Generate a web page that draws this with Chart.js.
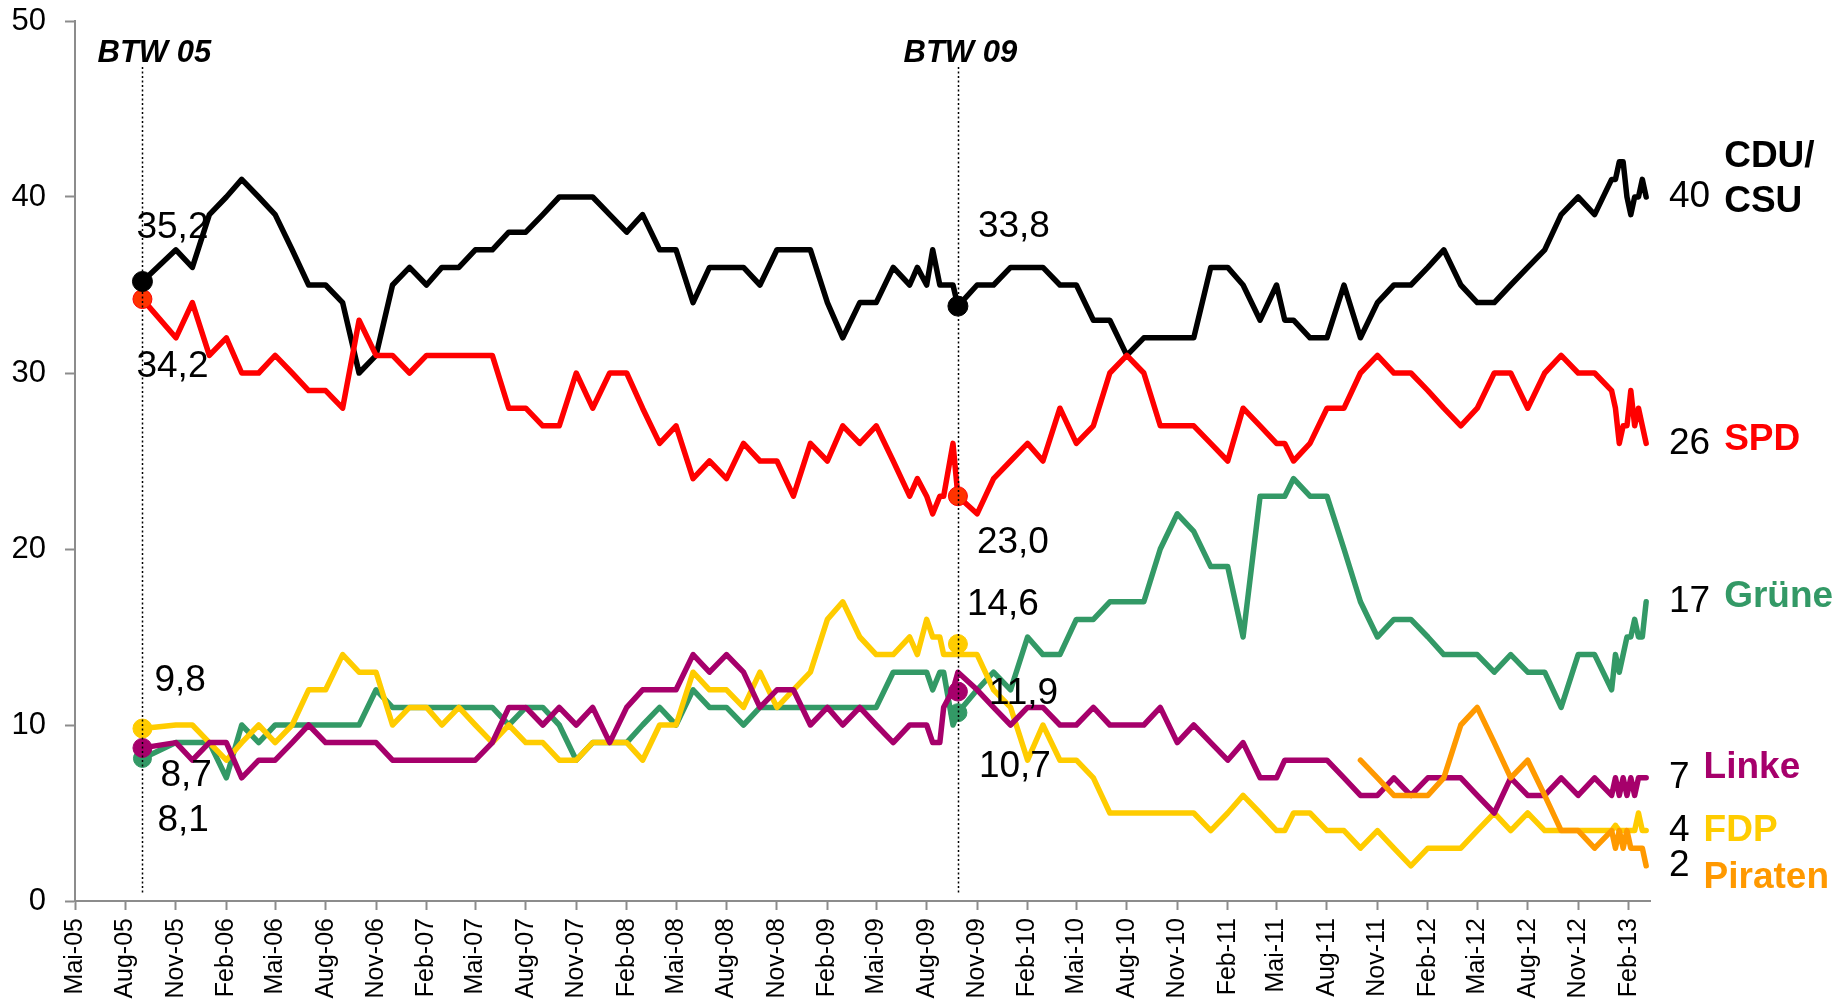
<!DOCTYPE html>
<html>
<head>
<meta charset="utf-8">
<script src="https://cdn.jsdelivr.net/npm/chart.js@4.4.1/dist/chart.umd.min.js"></script>
<style>
  html, body { margin: 0; padding: 0; background: #fff; }
  canvas { display: block; }
</style>
</head>
<body>
<canvas id="chart" width="1845" height="1004"></canvas>
<script>
// Umfragewerte (Prozent), Datum je Erhebung
const dates = [
  '2005-09-01', '2005-11-01', '2005-12-01',
  '2006-01-01', '2006-02-01', '2006-03-01', '2006-04-01', '2006-05-01', '2006-06-01', '2006-07-01', '2006-08-01', '2006-09-01', '2006-10-01', '2006-11-01', '2006-12-01',
  '2007-01-01', '2007-02-01', '2007-03-01', '2007-04-01', '2007-05-01', '2007-06-01', '2007-07-01', '2007-08-01', '2007-09-01', '2007-10-01', '2007-11-01', '2007-12-01',
  '2008-01-01', '2008-02-01', '2008-03-01', '2008-04-01', '2008-05-01', '2008-06-01', '2008-07-01', '2008-08-01', '2008-09-01', '2008-10-01', '2008-11-01', '2008-12-01',
  '2009-01-01', '2009-02-01', '2009-03-01', '2009-04-01', '2009-05-01', '2009-06-01', '2009-07-01', '2009-07-15', '2009-08-01', '2009-08-12', '2009-08-25', '2009-09-01', '2009-09-18', '2009-09-27', '2009-11-01', '2009-12-01',
  '2010-01-01', '2010-02-01', '2010-03-01', '2010-04-01', '2010-05-01', '2010-06-01', '2010-07-01', '2010-08-01', '2010-09-01', '2010-10-01', '2010-11-01', '2010-12-01',
  '2011-01-01', '2011-02-01', '2011-03-01', '2011-04-01', '2011-05-01', '2011-05-16', '2011-06-01', '2011-07-01', '2011-08-01', '2011-09-01', '2011-10-01', '2011-11-01', '2011-12-01',
  '2012-01-01', '2012-02-01', '2012-03-01', '2012-04-01', '2012-05-01', '2012-06-01', '2012-07-01', '2012-08-01', '2012-09-01', '2012-10-01', '2012-11-01', '2012-12-01',
  '2013-01-01', '2013-01-08', '2013-01-15', '2013-01-22', '2013-01-29', '2013-02-05', '2013-02-12', '2013-02-19', '2013-02-26', '2013-03-05'
];

const cdu = [
  35.2, 37, 36,
  39, 40, 41, 40, 39, 37, 35, 35, 34, 30, 31, 35,
  36, 35, 36, 36, 37, 37, 38, 38, 39, 40, 40, 40,
  39, 38, 39, 37, 37, 34, 36, 36, 36, 35, 37, 37,
  37, 34, 32, 34, 34, 36, 35, 36, 35, 37, 35, 35, 35, 33.8, 35, 35,
  36, 36, 36, 35, 35, 33, 33, 31, 32, 32, 32, 32,
  36, 36, 35, 33, 35, 33, 33, 32, 32, 35, 32, 34, 35,
  35, 36, 37, 35, 34, 34, 35, 36, 37, 39, 40, 39,
  41, 41, 42, 42, 40, 39, 40, 40, 41, 40
];
const spd = [
  34.2, 32, 34,
  31, 32, 30, 30, 31, 30, 29, 29, 28, 33, 31, 31,
  30, 31, 31, 31, 31, 31, 28, 28, 27, 27, 30, 28,
  30, 30, 28, 26, 27, 24, 25, 24, 26, 25, 25, 23,
  26, 25, 27, 26, 27, 25, 23, 24, 23, 22, 23, 23, 26, 23.0, 22, 24,
  25, 26, 25, 28, 26, 27, 30, 31, 30, 27, 27, 27,
  26, 25, 28, 27, 26, 26, 25, 26, 28, 28, 30, 31, 30,
  30, 29, 28, 27, 28, 30, 30, 28, 30, 31, 30, 30,
  29, 28, 26, 27, 27, 29, 27, 28, 27, 26
];
const gruene = [
  8.1, 9, 9,
  9, 7, 10, 9, 10, 10, 10, 10, 10, 10, 12, 11,
  11, 11, 11, 11, 11, 11, 10, 11, 11, 10, 8, 9,
  9, 9, 10, 11, 10, 12, 11, 11, 10, 11, 11, 11,
  11, 11, 11, 11, 11, 13, 13, 13, 13, 12, 13, 13, 10, 10.7, 12, 13,
  12, 15, 14, 14, 16, 16, 17, 17, 17, 20, 22, 21,
  19, 19, 15, 23, 23, 23, 24, 23, 23, 20, 17, 15, 16,
  16, 15, 14, 14, 14, 13, 14, 13, 13, 11, 14, 14,
  12, 14, 13, 14, 15, 15, 16, 15, 15, 17
];
const linke = [
  8.7, 9, 8,
  9, 9, 7, 8, 8, 9, 10, 9, 9, 9, 9, 8,
  8, 8, 8, 8, 8, 9, 11, 11, 10, 11, 10, 11,
  9, 11, 12, 12, 12, 14, 13, 14, 13, 11, 12, 12,
  10, 11, 10, 11, 10, 9, 10, 10, 10, 9, 9, 11, 12, 13, 12, 11,
  10, 11, 11, 10, 10, 11, 10, 10, 10, 11, 9, 10,
  9, 8, 9, 7, 7, 8, 8, 8, 8, 7, 6, 6, 7,
  6, 7, 7, 7, 6, 5, 7, 6, 6, 7, 6, 7,
  6, 7, 6, 7, 6, 7, 6, 7, 7, 7
];
const fdp = [
  9.8, 10, 10,
  9, 8, 9, 10, 9, 10, 12, 12, 14, 13, 13, 10,
  11, 11, 10, 11, 10, 9, 10, 9, 9, 8, 8, 9,
  9, 9, 8, 10, 10, 13, 12, 12, 11, 13, 11, 12,
  13, 16, 17, 15, 14, 14, 15, 14, 16, 15, 15, 14, 14, 14, 14, 12,
  11, 8, 10, 8, 8, 7, 5, 5, 5, 5, 5, 5,
  4, 5, 6, 5, 4, 4, 5, 5, 4, 4, 3, 4, 3,
  2, 3, 3, 3, 4, 5, 4, 5, 4, 4, 4, 4,
  4, 4.3, 4, 4, 4, 4, 4, 5, 4, 4
];
// Piraten erst ab Oktober 2011
const piratenStart = '2011-10-01';
const piraten = [
  8, 7, 6,
  6, 6, 7, 10, 11, 9, 7, 8, 6, 4, 4, 3,
  4, 3, 4, 3, 4, 3, 3, 3, 3, 2
];

// Bundestagswahlen: amtliches Ergebnis
const btwDates = ['2005-09-01', '2009-09-27'];
const btwNames = ['BTW 05', 'BTW 09'];
const resCDU = [35.2, 33.8];
const resSPD = [34.2, 23.0];
const resFDP = [9.8, 14.6];
const resLinke = [8.7, 11.9];
const resGruene = [8.1, 10.7];

const tickLabels = [
  'Mai-05', 'Aug-05', 'Nov-05', 'Feb-06', 'Mai-06', 'Aug-06', 'Nov-06', 'Feb-07', 'Mai-07', 'Aug-07', 'Nov-07',
  'Feb-08', 'Mai-08', 'Aug-08', 'Nov-08', 'Feb-09', 'Mai-09', 'Aug-09', 'Nov-09', 'Feb-10', 'Mai-10', 'Aug-10',
  'Nov-10', 'Feb-11', 'Mai-11', 'Aug-11', 'Nov-11', 'Feb-12', 'Mai-12', 'Aug-12', 'Nov-12', 'Feb-13'
];

const ms = d => Date.parse(d + 'T00:00:00Z');
const monatNr = { Feb: 1, Mai: 4, Aug: 7, Nov: 10 };
const tickValues = tickLabels.map(l => {
  const [m, j] = l.split('-');
  return Date.UTC(2000 + parseInt(j, 10), monatNr[m], 1);
});

const FONT = '"Liberation Sans", Arial, sans-serif';
const farben = {
  cdu: '#000000', spd: '#ff0000', gruene: '#339966',
  linke: '#a6006b', fdp: '#ffcc00', piraten: '#ff9900'
};

function toPoints(vals, start) {
  const off = start ? dates.indexOf(start) : 0;
  return vals.map((v, i) => ({ x: ms(dates[off + i]), y: v }));
}

function lineSet(label, vals, color, order, start) {
  return {
    type: 'line', label, data: toPoints(vals, start),
    borderColor: color, backgroundColor: color, borderWidth: 5.5,
    pointRadius: 0, tension: 0, borderJoinStyle: 'round', borderCapStyle: 'round',
    order
  };
}

function markerSet(vals, fill, border, r) {
  return {
    type: 'scatter',
    data: vals.map((v, i) => ({ x: ms(btwDates[i]), y: v })),
    backgroundColor: fill, borderColor: border, borderWidth: 1,
    pointRadius: r, showLine: false, order: 0
  };
}

// Beschriftungen an den Wahlergebnissen: [dx, dy] relativ zum Punkt
const ergebnisLabels = [
  { vals: resCDU,    off: [[-6, -54], [20, -79]] },
  { vals: resSPD,    off: [[-6, 68], [19, 47]] },
  { vals: resFDP,    off: [[12, -48], [9, -39]] },
  { vals: resLinke,  off: [[18, 28], [31, 2]] },
  { vals: resGruene, off: [[15, 62], [21, 54]] }
];

// Parteinamen rechts
const endLabels = [
  { vals: cdu, name: ['CDU/', 'CSU'], color: farben.cdu, nameDy: [-40, 5] },
  { vals: spd, name: ['SPD'], color: farben.spd, nameDy: [-4] },
  { vals: gruene, name: ['Grüne'], color: farben.gruene, nameDy: [-5] },
  { vals: linke, name: ['Linke'], color: farben.linke, nameDy: [-10] },
  { vals: fdp, name: ['FDP'], color: farben.fdp, nameDy: [0] },
  { vals: piraten, name: ['Piraten'], color: farben.piraten, nameDy: [12] }
];

const beschriftung = {
  id: 'beschriftung',
  afterDatasetsDraw(chart) {
    const { ctx, chartArea } = chart;
    const x = chart.scales.x, y = chart.scales.y;
    ctx.save();

    // Wahltermine: gepunktete Linie + Titel
    btwDates.forEach((d, i) => {
      const px = Math.round(x.getPixelForValue(ms(d))) + 0.5;
      ctx.strokeStyle = '#000';
      ctx.lineWidth = 1.5;
      ctx.setLineDash([2, 2.5]);
      ctx.beginPath();
      ctx.moveTo(px, chartArea.top + 46);
      ctx.lineTo(px, chartArea.bottom - 8);
      ctx.stroke();
      ctx.setLineDash([]);
      ctx.font = 'italic bold 31px ' + FONT;
      ctx.fillStyle = '#000';
      ctx.textAlign = 'left';
      ctx.textBaseline = 'alphabetic';
      ctx.fillText(btwNames[i], px - (i === 0 ? 45 : 55), chartArea.top + 41);
    });

    // Wahlergebnisse
    ctx.font = '37px ' + FONT;
    ctx.fillStyle = '#000';
    ctx.textBaseline = 'middle';
    ctx.textAlign = 'left';
    ergebnisLabels.forEach(l => {
      l.vals.forEach((v, i) => {
        const px = x.getPixelForValue(ms(btwDates[i]));
        const py = y.getPixelForValue(v);
        ctx.fillText(v.toFixed(1).replace('.', ','), px + l.off[i][0], py + l.off[i][1]);
      });
    });

    // Endwerte + Parteinamen
    endLabels.forEach(l => {
      const last = l.vals[l.vals.length - 1];
      const py = y.getPixelForValue(last);
      const tx = chartArea.right + 19;
      ctx.font = '37px ' + FONT;
      ctx.fillStyle = '#000';
      const txt = String(last);
      ctx.fillText(txt, tx, py);
      const w = ctx.measureText(txt).width;
      ctx.font = 'bold 37px ' + FONT;
      ctx.fillStyle = l.color;
      l.name.forEach((n, k) => ctx.fillText(n, tx + w + 14, py + l.nameDy[k]));
    });
    ctx.restore();
  }
};

const achsenGrau = '#8c8c8c';

new Chart(document.getElementById('chart'), {
  data: {
    datasets: [
      lineSet('CDU/CSU', cdu, farben.cdu, 6),
      lineSet('SPD', spd, farben.spd, 5),
      lineSet('Grüne', gruene, farben.gruene, 4),
      lineSet('FDP', fdp, farben.fdp, 3),
      lineSet('Linke', linke, farben.linke, 2),
      lineSet('Piraten', piraten, farben.piraten, 1, piratenStart),
      markerSet(resCDU, '#000000', '#000000', 10),
      markerSet(resSPD, '#ff3300', '#ff0000', 9.5),
      markerSet(resFDP, '#ffcc00', '#ffcc00', 9.5),
      markerSet(resLinke, '#a6006b', '#a6006b', 9.5),
      markerSet(resGruene, '#339966', '#339966', 9)
    ]
  },
  options: {
    responsive: false,
    animation: false,
    devicePixelRatio: 1,
    layout: { padding: { left: 0, top: 21, right: 195, bottom: 0 } },
    plugins: { legend: { display: false }, tooltip: { enabled: false } },
    scales: {
      x: {
        type: 'linear',
        min: ms('2005-05-01'),
        max: ms('2013-03-12'),
        afterBuildTicks: s => { s.ticks = tickValues.map(v => ({ value: v })); },
        afterFit: s => { s.height = 103; s.paddingTop = 0; },
        ticks: {
          autoSkip: false, maxRotation: 90, minRotation: 90, padding: 8,
          color: '#000', font: { family: FONT, size: 25 },
          callback: (v, i) => tickLabels[i]
        },
        grid: { drawOnChartArea: false, drawTicks: true, tickLength: 9, tickColor: achsenGrau, tickWidth: 2 },
        border: { display: true, color: achsenGrau, width: 2 }
      },
      y: {
        min: 0, max: 50,
        // Platz oben nur über layout.padding steuern
        afterFit: s => { s.width = 75; s.paddingTop = 0; s.paddingBottom = 0; },
        ticks: {
          stepSize: 10, padding: 19,
          color: '#000', font: { family: FONT, size: 31 }
        },
        grid: { drawOnChartArea: false, drawTicks: true, tickLength: 10, tickColor: achsenGrau, tickWidth: 2 },
        border: { display: true, color: achsenGrau, width: 2 }
      }
    }
  },
  plugins: [beschriftung]
});
</script>
</body>
</html>
